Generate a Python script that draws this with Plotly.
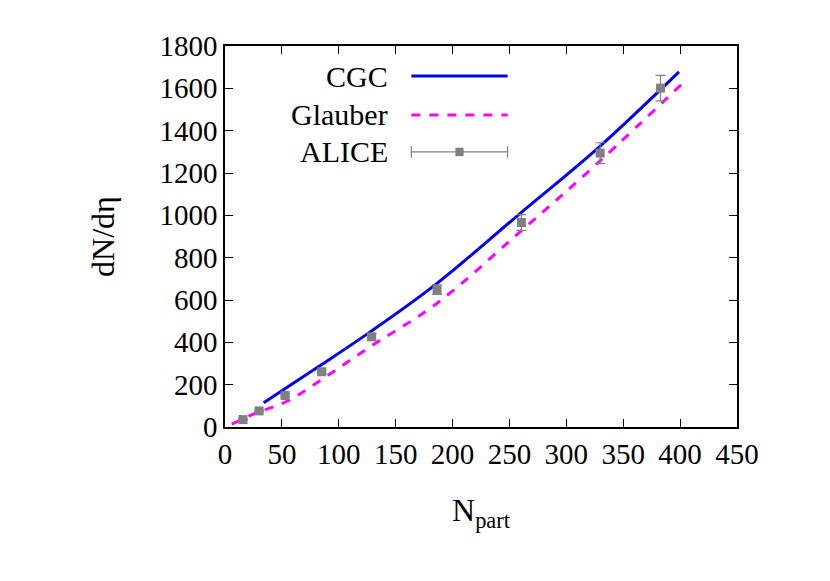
import plotly.graph_objects as go

alice_npart = [15.8, 30.0, 52.8, 85.0, 128.9, 186.4, 260.5, 329.7, 382.8]
alice_dndeta = [35, 76, 149, 261, 426, 649, 966, 1294, 1601]
alice_err = [2, 4, 6, 9, 15, 23, 37, 49, 60]

cgc_npart = [34, 83, 128.6, 185.5, 258.5, 328, 399]
cgc_dndeta = [115, 288, 453, 675, 1005, 1319, 1678]

glauber_npart = [6, 25, 55, 83, 128.6, 185.5, 258.5, 328, 405]
glauber_dndeta = [14, 61, 123, 217, 383, 581, 918, 1249, 1638]

font = "Liberation Serif"
fig = go.Figure()
fig.add_trace(go.Scatter(x=cgc_npart, y=cgc_dndeta, mode="lines", line=dict(color="#0000ee", width=3, shape="spline"), showlegend=False))
fig.add_trace(go.Scatter(x=glauber_npart, y=glauber_dndeta, mode="lines", line=dict(color="#ff00ff", width=3, dash="dash", shape="spline"), showlegend=False))
fig.add_trace(go.Scatter(x=alice_npart, y=alice_dndeta, mode="markers", marker=dict(symbol="square", size=9, color="#808080"),
                         error_y=dict(type="data", array=alice_err, color="#808080", thickness=1.2, width=5), showlegend=False))

ax = dict(showline=True, linecolor="black", linewidth=1.5, mirror="ticks", ticks="inside", ticklen=8,
          tickcolor="black", showgrid=False, zeroline=False, tickfont=dict(family=font, size=29, color="black"))
fig.update_xaxes(range=[0, 450], dtick=50, title=dict(text="N<sub>part</sub>", font=dict(family=font, size=32), standoff=30), **ax)
fig.update_yaxes(range=[0, 1800], dtick=200, title=dict(text="dN/dη", font=dict(family=font, size=32), standoff=35), **ax)

rows = [("CGC", 0.921), ("Glauber", 0.819), ("ALICE", 0.722)]
for t, yy in rows:
    fig.add_annotation(x=0.323, y=yy, xref="paper", yref="paper", text=t, showarrow=False, xanchor="right", yanchor="middle",
                       font=dict(family=font, size=30, color="black"))
fig.add_shape(type="line", xref="paper", yref="paper", x0=0.364, x1=0.552, y0=0.921, y1=0.921, line=dict(color="#0000ee", width=3))
fig.add_shape(type="line", xref="paper", yref="paper", x0=0.364, x1=0.552, y0=0.819, y1=0.819, line=dict(color="#ff00ff", width=3, dash="dash"))
fig.add_shape(type="line", xref="paper", yref="paper", x0=0.364, x1=0.552, y0=0.722, y1=0.722, line=dict(color="#808080", width=1.2))
for xx in (0.364, 0.552):
    fig.add_shape(type="line", xref="paper", yref="paper", x0=xx, x1=xx, y0=0.707, y1=0.737, line=dict(color="#808080", width=1.2))
fig.add_shape(type="rect", xref="paper", yref="paper", x0=0.450, x1=0.466, y0=0.711, y1=0.733, fillcolor="#808080", line=dict(width=0))

fig.update_layout(width=830, height=581, margin=dict(l=217, r=101, t=38, b=162),
                  plot_bgcolor="white", paper_bgcolor="white", font=dict(family=font, color="black"))
fig.write_html("out.html")
